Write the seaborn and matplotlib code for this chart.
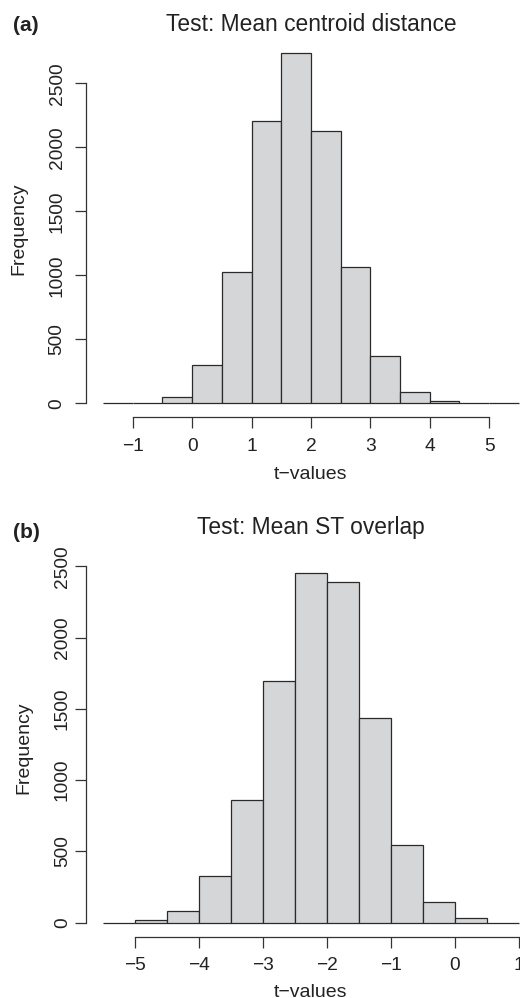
import numpy as np
import pandas as pd
import matplotlib
matplotlib.use("Agg")
import matplotlib.pyplot as plt
import seaborn as sns

# ---- data ----
edges_a = [-1.5, -1.0, -0.5, 0.0, 0.5, 1.0, 1.5, 2.0, 2.5, 3.0, 3.5, 4.0, 4.5, 5.0, 5.5]
counts_a = [1, 6, 52, 299, 1023, 2205, 2734, 2127, 1067, 370, 88, 18, 3, 1]
xticks_a = [-1, 0, 1, 2, 3, 4, 5]
yticks_a = [0, 500, 1000, 1500, 2000, 2500]
title_a = "Test: Mean centroid distance"

edges_b = [-5.5, -5.0, -4.5, -4.0, -3.5, -3.0, -2.5, -2.0, -1.5, -1.0, -0.5, 0.0, 0.5, 1.0]
counts_b = [2, 17, 84, 330, 860, 1693, 2454, 2389, 1433, 547, 145, 33, 2]
xticks_b = [-5, -4, -3, -2, -1, 0, 1]
yticks_b = [0, 500, 1000, 1500, 2000, 2500]
title_b = "Test: Mean ST overlap"

xlabel = "t\u2212values"
ylabel = "Frequency"

sns.set_style("ticks")
plt.rcParams["font.family"] = ["Liberation Sans", "DejaVu Sans"]
plt.rcParams["axes.unicode_minus"] = True

W, H = 520, 998
fig = plt.figure(figsize=(W / 100, H / 100), dpi=100)

FACE = "#d5d6d8"
EDGE = "#2a2a2a"
AX = "#333333"
TXT = "#222222"


def px_axes(left, top, width, height):
    return [left / W, 1 - (top + height) / H, width / W, height / H]


def panel(rect, edges, counts, xticks, yticks, title, title_pad, ytick_pad, ylab_x, xlab_y):
    ax = fig.add_axes(rect)
    e = np.asarray(edges, float)
    df = pd.DataFrame({"t": (e[:-1] + e[1:]) / 2, "n": np.asarray(counts, float)})
    sns.histplot(data=df, x="t", weights="n", bins=list(edges), ax=ax, color=FACE,
                 edgecolor=EDGE, linewidth=0.9, alpha=1, stat="count")
    xr = e[-1] - e[0]
    ax.set_xlim(e[0] - 0.04 * xr, e[-1] + 0.04 * xr)
    ym = max(counts)
    ax.set_ylim(-0.04 * ym, 1.04 * ym)
    ax.set_xticks(xticks)
    ax.set_yticks(yticks)
    sns.despine(ax=ax)
    ax.spines["left"].set_bounds(yticks[0], yticks[-1])
    ax.spines["bottom"].set_bounds(xticks[0], xticks[-1])
    for s in ("left", "bottom"):
        ax.spines[s].set_color(AX)
        ax.spines[s].set_linewidth(0.9)
    ax.tick_params(axis="both", length=8, width=0.9, color=AX,
                   labelsize=13.8, labelcolor=TXT)
    ax.tick_params(axis="x", pad=6.5)
    ax.tick_params(axis="y", pad=ytick_pad)
    for lab in ax.get_yticklabels():
        lab.set_rotation(90)
        lab.set_va("center")
    ax.set_title(title, fontsize=16.4, color=TXT, pad=title_pad)
    ax.set_xlabel(xlabel, fontsize=14, color=TXT)
    ax.set_ylabel(ylabel, fontsize=14, color=TXT)
    ax.xaxis.label.set_va("baseline")
    ax.xaxis.set_label_coords(0.5, xlab_y)
    ax.yaxis.set_label_coords(ylab_x, 0.5)
    ax.grid(False)
    return ax


axA = panel(px_axes(86.4, 39.4, 449, 378), edges_a, counts_a, xticks_a, yticks_a,
            title_a, 6.0, 7.0, -0.1323, -0.1632)
axB = panel(px_axes(86.4, 558.8, 449, 378), edges_b, counts_b, xticks_b, yticks_b,
            title_b, 17.6, 3.2, -0.120, -0.1595)

fig.text(12.7 / W, 1 - 31 / H, "(a)", fontsize=15, fontweight="bold", color=TXT, va="baseline")
fig.text(13.3 / W, 1 - 537.7 / H, "(b)", fontsize=15, fontweight="bold", color=TXT, va="baseline")

fig.savefig("out.png", dpi=100, facecolor="white")
